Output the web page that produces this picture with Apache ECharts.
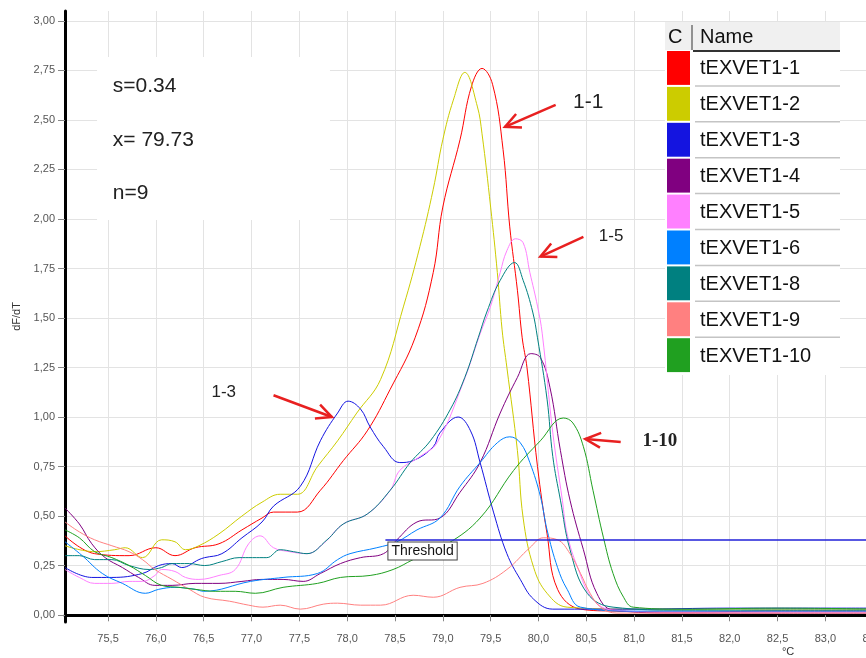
<!DOCTYPE html>
<html>
<head>
<meta charset="UTF-8">
<title>tEXVET1 melt curves</title>
<script src="https://cdn.jsdelivr.net/npm/echarts@6.0.0/dist/echarts.min.js"></script>
<style>
html,body{margin:0;padding:0;background:#fff;}
#chart{width:866px;height:658px;}
</style>
</head>
<body>
<div id="chart"></div>
<script>
// sample names and colours
var names = ['tEXVET1-1','tEXVET1-2','tEXVET1-3','tEXVET1-4','tEXVET1-5','tEXVET1-6','tEXVET1-8','tEXVET1-9','tEXVET1-10'];
var colors = ['#ff0000','#cccc00','#1414e0','#800080','#ff80ff','#0080ff','#008080','#ff8080','#20a020'];

// axis ticks
var xTicks = [75.5,76,76.5,77,77.5,78,78.5,79,79.5,80,80.5,81,81.5,82,82.5,83,83.5];
var yTicks = [0,0.25,0.5,0.75,1,1.25,1.5,1.75,2,2.25,2.5,2.75,3];
var threshold = 0.382;

// dF/dT values, [temperature, value]
var d1_1 = [[75.05,0.40],[75.36,0.31],[75.72,0.30],[76.0,0.34],[76.2,0.30],[76.41,0.34],[76.66,0.36],[76.9,0.43],[77.11,0.49],[77.23,0.52],[77.48,0.52],[77.72,0.63],[77.96,0.78],[78.21,0.93],[78.45,1.14],[78.71,1.40],[78.9,1.73],[79.0,2.06],[79.18,2.40],[79.3,2.67],[79.41,2.76],[79.52,2.68],[79.63,2.35],[79.7,1.96],[79.78,1.64],[79.83,1.40],[79.88,1.25],[79.99,0.75],[80.09,0.41],[80.2,0.13],[80.44,0.03],[80.8,0.02],[81.5,0.015],[82.5,0.02],[83.55,0.02]];
var d1_2 = [[75.05,0.35],[75.36,0.32],[75.57,0.33],[75.68,0.34],[75.86,0.29],[76.06,0.38],[76.2,0.37],[76.31,0.33],[76.45,0.35],[76.66,0.41],[76.9,0.50],[77.11,0.57],[77.3,0.61],[77.48,0.61],[77.69,0.75],[77.9,0.88],[78.1,1.02],[78.35,1.19],[78.59,1.56],[78.76,1.86],[78.9,2.15],[79.0,2.40],[79.11,2.60],[79.23,2.74],[79.36,2.57],[79.41,2.43],[79.5,2.06],[79.57,1.73],[79.62,1.44],[79.67,1.25],[79.78,0.83],[79.84,0.49],[79.95,0.24],[80.09,0.11],[80.3,0.04],[81,0.03],[82,0.03],[83.55,0.03]];
var d1_3 = [[75.05,0.24],[75.33,0.19],[75.54,0.19],[75.86,0.21],[76.03,0.25],[76.17,0.26],[76.27,0.24],[76.45,0.28],[76.51,0.29],[76.69,0.31],[76.9,0.39],[77.11,0.47],[77.23,0.55],[77.51,0.65],[77.72,0.88],[77.9,1.02],[78.01,1.08],[78.14,1.04],[78.24,0.95],[78.38,0.85],[78.55,0.77],[78.69,0.78],[78.9,0.85],[78.97,0.92],[79.16,1.0],[79.29,0.93],[79.39,0.77],[79.53,0.52],[79.67,0.31],[79.81,0.18],[79.95,0.08],[80.15,0.03],[81,0.03],[82,0.035],[83.55,0.035]];
var d1_4 = [[75.05,0.54],[75.2,0.46],[75.33,0.36],[75.47,0.29],[75.65,0.24],[75.82,0.19],[75.99,0.15],[76.17,0.15],[76.41,0.16],[76.66,0.16],[76.9,0.17],[77.11,0.18],[77.33,0.18],[77.54,0.17],[77.72,0.21],[77.93,0.26],[78.14,0.29],[78.38,0.31],[78.52,0.38],[78.73,0.47],[78.97,0.49],[79.18,0.62],[79.39,0.77],[79.6,1.02],[79.78,1.20],[79.92,1.32],[80.02,1.30],[80.12,1.15],[80.23,0.83],[80.33,0.58],[80.47,0.33],[80.61,0.11],[80.78,0.025],[81.5,0.01],[82.5,0.01],[83.55,0.01]];
var d1_5 = [[75.05,0.23],[75.2,0.19],[75.36,0.16],[75.54,0.16],[75.72,0.17],[75.86,0.17],[75.99,0.20],[76.06,0.23],[76.2,0.22],[76.31,0.19],[76.45,0.18],[76.66,0.20],[76.83,0.23],[76.97,0.36],[77.09,0.40],[77.23,0.34],[77.4,0.32],[77.58,0.31],[77.75,0.36],[77.96,0.46],[78.21,0.51],[78.45,0.63],[78.55,0.73],[78.76,0.80],[78.94,0.87],[79.21,1.17],[79.39,1.42],[79.5,1.56],[79.6,1.73],[79.67,1.84],[79.76,1.90],[79.84,1.88],[79.91,1.73],[79.99,1.56],[80.04,1.42],[80.15,0.92],[80.25,0.58],[80.3,0.41],[80.41,0.24],[80.57,0.08],[80.78,0.025],[81.5,0.015],[82.5,0.015],[83.55,0.015]];
var d1_6 = [[75.05,0.37],[75.23,0.30],[75.44,0.21],[75.65,0.16],[75.89,0.11],[76.03,0.13],[76.2,0.14],[76.41,0.13],[76.5,0.12],[76.99,0.17],[77.33,0.19],[77.69,0.21],[77.9,0.28],[78.03,0.31],[78.31,0.34],[78.52,0.37],[78.73,0.43],[78.97,0.49],[79.18,0.65],[79.39,0.77],[79.57,0.87],[79.7,0.90],[79.81,0.87],[79.91,0.77],[80.02,0.60],[80.09,0.43],[80.2,0.24],[80.3,0.13],[80.44,0.04],[81,0.02],[82,0.02],[83.55,0.02]];
var d1_8 = [[75.05,0.30],[75.2,0.30],[75.36,0.28],[75.54,0.28],[75.72,0.25],[75.93,0.23],[76.06,0.24],[76.17,0.26],[76.35,0.26],[76.51,0.25],[76.69,0.27],[76.87,0.29],[77.01,0.29],[77.16,0.29],[77.3,0.33],[77.44,0.32],[77.58,0.31],[77.79,0.38],[77.96,0.46],[78.21,0.51],[78.45,0.63],[78.66,0.77],[78.87,0.88],[79.08,1.04],[79.23,1.20],[79.37,1.40],[79.46,1.53],[79.6,1.69],[79.75,1.78],[79.84,1.69],[79.94,1.53],[79.99,1.40],[80.09,1.09],[80.15,0.80],[80.23,0.58],[80.33,0.33],[80.51,0.11],[80.78,0.04],[81.5,0.025],[82.5,0.025],[83.55,0.025]];
var d1_9 = [[75.05,0.47],[75.2,0.42],[75.36,0.38],[75.54,0.35],[75.72,0.32],[75.86,0.28],[75.99,0.23],[76.17,0.18],[76.35,0.13],[76.51,0.09],[76.77,0.07],[76.97,0.05],[77.12,0.04],[77.3,0.05],[77.51,0.03],[77.75,0.055],[77.9,0.06],[78.14,0.05],[78.35,0.05],[78.69,0.10],[78.9,0.09],[79.18,0.14],[79.42,0.16],[79.67,0.23],[79.91,0.34],[80.05,0.39],[80.2,0.38],[80.33,0.31],[80.44,0.21],[80.54,0.11],[80.65,0.04],[80.82,0.01],[82,0.01],[83.55,0.01]];
var d1_10 = [[75.05,0.43],[75.2,0.39],[75.36,0.32],[75.54,0.29],[75.72,0.25],[75.89,0.20],[76.06,0.15],[76.24,0.14],[76.41,0.13],[76.62,0.12],[76.83,0.12],[77.04,0.11],[77.33,0.14],[77.69,0.16],[77.93,0.19],[78.24,0.20],[78.48,0.23],[78.69,0.28],[79.05,0.36],[79.39,0.49],[79.74,0.73],[80.02,0.88],[80.26,0.995],[80.36,0.97],[80.47,0.85],[80.57,0.63],[80.68,0.39],[80.78,0.21],[80.89,0.09],[80.99,0.04],[81.5,0.03],[82.5,0.035],[83.55,0.03]];
var curves = [d1_1,d1_2,d1_3,d1_4,d1_5,d1_6,d1_8,d1_9,d1_10];

// annotations: text, position [T, dF/dT]; arrows tail -> tip
var labels = [
  {text:'1-1', at:[80.52,2.59], font:'21px "Liberation Sans"'},
  {text:'1-5', at:[80.76,1.914], font:'17px "Liberation Sans"'},
  {text:'1-3', at:[76.71,1.126], font:'17px "Liberation Sans"'},
  {text:'1-10', at:[81.27,0.879], font:'bold 19px "Liberation Serif"'}
];
var arrows = [
  {from:[80.18,2.576], to:[79.65,2.465]},
  {from:[80.47,1.91], to:[80.02,1.81]},
  {from:[77.23,1.11], to:[77.84,1.0]},
  {from:[80.86,0.874], to:[80.49,0.889]}
];
var stats = ['s=0.34','x= 79.73','n=9'];

var chart = echarts.init(document.getElementById('chart'));

function fmt(v, n){ return v.toFixed(n).replace('.', ','); }

var series = curves.map(function(d, i){
  return {
    name: names[i], type: 'line', data: d, smooth: 0.4,
    showSymbol: false, symbol: 'none', clip: true,
    lineStyle: {color: colors[i], width: 1},
    itemStyle: {color: colors[i]}, z: 2
  };
});
series[2].markLine = {
  silent: true, symbol: ['none','none'],
  lineStyle: {color:'#2020d8', width:1.6, type:'solid'},
  label: {show:true, position:'insideStartBottom', formatter:'Threshold', distance:3,
          color:'#111', fontSize:14, fontFamily:'Liberation Sans',
          backgroundColor:'#fff', borderColor:'#444', borderWidth:1, padding:[2,3,1,3]},
  data: [[{coord:[78.4, threshold]}, {coord:[83.55, threshold]}]]
};

chart.setOption({
  animation: false,
  backgroundColor: '#fff',
  grid: {left: 65, right: -12, top: 11, bottom: 36, outerBoundsMode: 'none', containLabel: false},
  xAxis: {
    type: 'value', min: 75.05, max: 83.55,
    axisLine: {show:true, lineStyle:{color:'#000', width:3}},
    axisTick: {show:true, length:6, customValues: xTicks, lineStyle:{color:'#888'}},
    axisLabel: {customValues: xTicks, margin: 11, color:'#555', fontSize:11, fontFamily:'Liberation Sans',
                formatter: function(v){ return fmt(v,1); }},
    splitLine: {show:true, lineStyle:{color:'#e3e3e3', width:1}}
  },
  yAxis: {
    type: 'value', min: -0.035, max: 3.05,
    name: 'dF/dT', nameLocation: 'middle', nameGap: 40, nameRotate: 90,
    nameTextStyle: {color:'#333', fontSize:11, fontFamily:'Liberation Sans'},
    axisLine: {show:true, lineStyle:{color:'#000', width:3}},
    axisTick: {show:true, length:7, customValues: yTicks, lineStyle:{color:'#888'}},
    axisLabel: {customValues: yTicks, margin: 10, color:'#555', fontSize:11, fontFamily:'Liberation Sans',
                formatter: function(v){ return fmt(v,2); }},
    splitLine: {show:true, lineStyle:{color:'#e3e3e3', width:1}}
  },
  series: series
});

// overlays placed through the grid's own coordinate system
function px(p){ return chart.convertToPixel({gridIndex:0}, p); }
var g = [];

// white stats box
var b0 = px([75.385, 2.818]), b1 = px([77.82, 1.995]);
g.push({type:'rect', z:1, shape:{x:b0[0], y:b0[1], width:b1[0]-b0[0], height:b1[1]-b0[1]}, style:{fill:'#fff'}});
stats.forEach(function(t, i){
  var p = px([75.55, 2.67 - i*0.27]);
  g.push({type:'text', z:5, x:p[0], y:p[1], style:{text:t, font:'21px "Liberation Sans"', fill:'#222', textVerticalAlign:'middle'}});
});

// annotation labels and arrows
labels.forEach(function(l){
  var p = px(l.at);
  g.push({type:'text', z:5, x:p[0], y:p[1], style:{text:l.text, font:l.font, fill:'#222', textAlign:'center', textVerticalAlign:'middle'}});
});
arrows.forEach(function(a){
  var p0 = px(a.from), p1 = px(a.to);
  var ang = Math.atan2(p1[1]-p0[1], p1[0]-p0[0]);
  var L = 17, w = 0.45;
  var h1 = [p1[0]-L*Math.cos(ang-w), p1[1]-L*Math.sin(ang-w)];
  var h2 = [p1[0]-L*Math.cos(ang+w), p1[1]-L*Math.sin(ang+w)];
  g.push({type:'line', z:5, shape:{x1:p0[0], y1:p0[1], x2:p1[0], y2:p1[1]}, style:{stroke:'#e82020', lineWidth:2.5}});
  g.push({type:'polyline', z:5, shape:{points:[h1, p1, h2]}, style:{stroke:'#e82020', lineWidth:2.5, fill:null}});
});

// legend table
var lx = 665, lw = 175, ly = 22, hh = 28, rh = 35.9;
g.push({type:'rect', z:3, shape:{x:lx, y:ly, width:lw, height:hh + rh*names.length + 2}, style:{fill:'#fff'}});
g.push({type:'rect', z:3, shape:{x:lx, y:ly, width:lw, height:hh}, style:{fill:'#f0f0f0'}});
g.push({type:'text', z:4, x:lx+3, y:ly+hh/2+1, style:{text:'C', font:'20px "Liberation Sans"', fill:'#111', textVerticalAlign:'middle'}});
g.push({type:'line', z:4, shape:{x1:lx+27, y1:ly+3, x2:lx+27, y2:ly+hh}, style:{stroke:'#333', lineWidth:1}});
g.push({type:'text', z:4, x:lx+35, y:ly+hh/2+1, style:{text:'Name', font:'20px "Liberation Sans"', fill:'#111', textVerticalAlign:'middle'}});
g.push({type:'line', z:4, shape:{x1:lx+28, y1:ly+hh+1, x2:lx+lw, y2:ly+hh+1}, style:{stroke:'#333', lineWidth:2}});
names.forEach(function(n, i){
  var y0 = ly + hh + i*rh;
  g.push({type:'rect', z:4, shape:{x:lx+2, y:y0+1, width:23, height:rh-2}, style:{fill:colors[i]}});
  g.push({type:'text', z:4, x:lx+35, y:y0+rh/2+1, style:{text:n, font:'20px "Liberation Sans"', fill:'#111', textVerticalAlign:'middle'}});
  if (i > 0) g.push({type:'line', z:4, shape:{x1:lx+30, y1:y0, x2:lx+lw, y2:y0}, style:{stroke:'#c4c4c4', lineWidth:1.5}});
});

// x axis unit
var u = px([82.61, -0.035]);
g.push({type:'text', z:5, x:u[0], y:u[1]+24, style:{text:'°C', font:'11px "Liberation Sans"', fill:'#333', textAlign:'center'}});

chart.setOption({graphic: g});
</script>
</body>
</html>
